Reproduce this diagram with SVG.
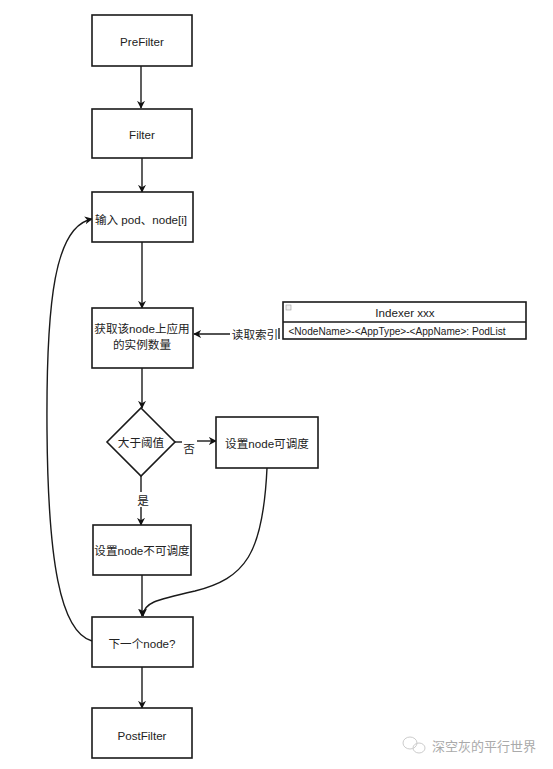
<svg xmlns="http://www.w3.org/2000/svg" width="553" height="769" viewBox="0 0 553 769">
<defs>
<marker id="ah" viewBox="0 0 10 10" refX="9" refY="5" markerWidth="8" markerHeight="8" markerUnits="userSpaceOnUse" orient="auto">
<path d="M0,0 L10,5 L0,10 L3,5 Z" fill="#111"/>
</marker>
<style>
.box{fill:#fff;stroke:#1a1a1a;stroke-width:1.6}
.t{font-family:"Liberation Sans","Noto Sans CJK SC",sans-serif;font-size:11.6px;fill:#222;text-anchor:middle;dominant-baseline:central}
.c{fill:none;stroke:#1a1a1a;stroke-width:1.4}
.ca{fill:none;stroke:#1a1a1a;stroke-width:1.4;marker-end:url(#ah)}
</style>
</defs>
<rect width="553" height="769" fill="#fff"/>
<g id="connectors">
<line class="ca" x1="141" y1="66" x2="141" y2="108"/>
<line class="ca" x1="142" y1="158" x2="142" y2="192"/>
<line class="ca" x1="142" y1="242" x2="142" y2="308"/>
<line class="ca" x1="230" y1="334" x2="194" y2="334"/>
<line class="c" x1="279" y1="328" x2="279" y2="339"/>
<line class="ca" x1="142" y1="368" x2="142" y2="408"/>
<line class="c" x1="175" y1="442" x2="182" y2="442"/>
<line class="ca" x1="197" y1="441" x2="216" y2="441"/>
<line class="c" x1="141" y1="476" x2="141" y2="492"/>
<line class="ca" x1="141" y1="507" x2="141" y2="525"/>
<line class="ca" x1="142" y1="575" x2="142" y2="616"/>
<path class="ca" d="M267,468 C263,555 245,578 195,591 C155,600 143,603 143,616"/>
<path class="ca" d="M92,641 C60,632 48,560 47,430 C46,300 55,226 92,219"/>
<line class="ca" x1="142" y1="667" x2="142" y2="708"/>
<text class="t" x="255" y="334">读取索引</text>
<text class="t" x="189" y="448">否</text>
<text class="t" x="143" y="500">是</text>
</g>
<g id="prefilter"><rect class="box" x="92" y="15" width="100" height="51"/><text class="t" x="142" y="41">PreFilter</text></g>
<g id="filter"><rect class="box" x="92" y="109" width="100" height="49"/><text class="t" x="142" y="134">Filter</text></g>
<g id="input"><rect class="box" x="92" y="192" width="101" height="50"/><text class="t" x="141" y="219">输入 pod、node[i]</text></g>
<g id="getcount"><rect class="box" x="92" y="308" width="101" height="60"/><text class="t" x="142" y="328">获取该node上应用</text><text class="t" x="142" y="344">的实例数量</text></g>
<g id="indexer">
<rect class="box" x="283" y="302" width="243" height="37"/>
<line x1="283" y1="322" x2="526" y2="322" stroke="#1a1a1a" stroke-width="1.4"/>
<rect x="286" y="305" width="5" height="5" fill="#eee" stroke="#999" stroke-width="0.6"/>
<text class="t" x="405" y="312">Indexer xxx</text>
<text class="t" x="397" y="331" style="font-size:10.1px">&lt;NodeName&gt;-&lt;AppType&gt;-&lt;AppName&gt;:  PodList</text>
</g>
<g id="decision"><path class="box" d="M141,408 L175,442 L141,476 L107,442 Z"/><text class="t" x="141" y="442">大于阈值</text></g>
<g id="schedulable"><rect class="box" x="216" y="417" width="102" height="51"/><text class="t" x="267" y="443">设置node可调度</text></g>
<g id="unschedulable"><rect class="box" x="93" y="525" width="98" height="50"/><text class="t" x="142" y="550">设置node不可调度</text></g>
<g id="next"><rect class="box" x="92" y="617" width="101" height="50"/><text class="t" x="142" y="643">下一个node?</text></g>
<g id="postfilter"><rect class="box" x="92" y="708" width="100" height="50"/><text class="t" x="142" y="735">PostFilter</text></g>
<g id="watermark">
<ellipse cx="410" cy="743" rx="7" ry="6" fill="none" stroke="#ccc" stroke-width="1"/>
<ellipse cx="419" cy="748" rx="6" ry="5" fill="none" stroke="#ccc" stroke-width="1"/>
<text x="484" y="745" style="font-family:'Noto Sans CJK SC',sans-serif;font-size:13px;fill:#aaa;text-anchor:middle;dominant-baseline:central">深空灰的平行世界</text>
</g>
</svg>
